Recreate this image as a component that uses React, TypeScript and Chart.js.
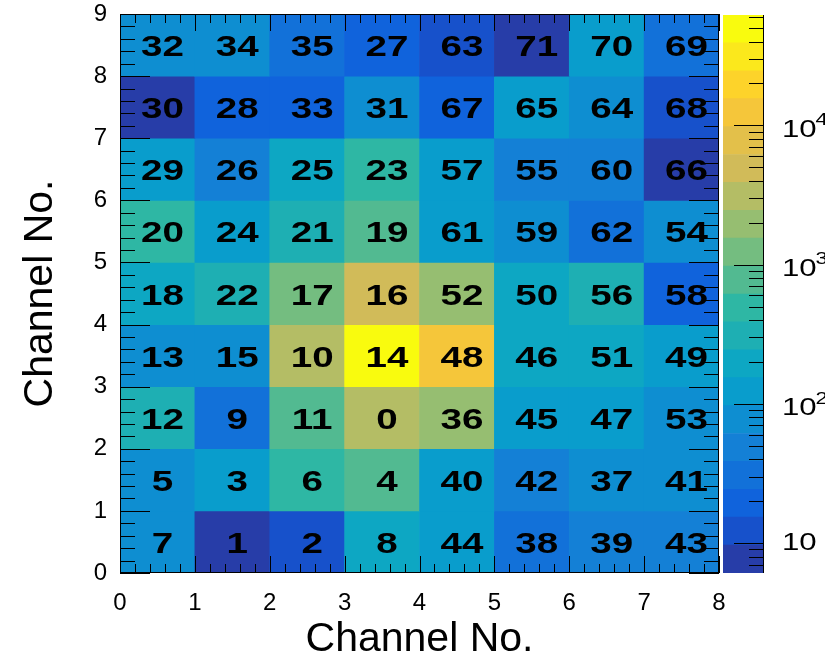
import React, { useEffect, useRef } from 'react';
import { Chart, registerables } from 'chart.js';

Chart.register(...registerables);

const FONT = "'Liberation Sans', Arial, Helvetica, sans-serif";

// Axis ranges (pad grid 8 x 9)
const X_MIN = 0;
const X_MAX = 8;
const Y_MIN = 0;
const Y_MAX = 9;
const COLUMNS = ['0', '1', '2', '3', '4', '5', '6', '7'];

// Channel number printed in each pad, top row (y 8-9) first
const CHANNEL_IDS: number[][] = [
  [32, 34, 35, 27, 63, 71, 70, 69],
  [30, 28, 33, 31, 67, 65, 64, 68],
  [29, 26, 25, 23, 57, 55, 60, 66],
  [20, 24, 21, 19, 61, 59, 62, 54],
  [18, 22, 17, 16, 52, 50, 56, 58],
  [13, 15, 10, 14, 48, 46, 51, 49],
  [12, 9, 11, 0, 36, 45, 47, 53],
  [5, 3, 6, 4, 40, 42, 37, 41],
  [7, 1, 2, 8, 44, 38, 39, 43],
];

// Counts per pad, same layout as CHANNEL_IDS
const COUNTS: number[][] = [
  [78, 82, 30, 19, 13, 7, 118, 33],
  [6.2, 18, 20, 75, 17, 125, 80, 12],
  [130, 48, 190, 480, 120, 47, 52, 7.5],
  [500, 115, 300, 760, 125, 85, 29, 76],
  [200, 310, 1250, 4900, 1900, 185, 320, 20],
  [74, 80, 3100, 61000, 12500, 160, 200, 125],
  [290, 32, 780, 3000, 1800, 118, 128, 72],
  [75, 135, 470, 800, 120, 50, 78, 74],
  [90, 6.5, 12, 195, 125, 31, 52, 50],
];

// Colour axis
const Z_MIN = 6.1;
const Z_MAX = 62000;
const Z_LABELS = [10, 100, 1000, 10000];

// 20-level "bird" palette, low to high
const PALETTE = [
  'rgb(39,61,168)', 'rgb(23,81,203)', 'rgb(16,99,220)', 'rgb(18,113,217)',
  'rgb(20,128,214)', 'rgb(14,142,209)', 'rgb(9,157,204)', 'rgb(13,167,195)',
  'rgb(30,175,179)', 'rgb(46,183,164)', 'rgb(82,186,145)', 'rgb(116,189,128)',
  'rgb(150,190,113)', 'rgb(180,189,101)', 'rgb(209,187,89)', 'rgb(227,192,74)',
  'rgb(245,198,58)', 'rgb(253,211,42)', 'rgb(251,232,28)', 'rgb(249,251,14)',
];

const LOG_MIN = Math.log10(Z_MIN);
const LOG_MAX = Math.log10(Z_MAX);

function colorFor(v: number): string {
  const f = (Math.log10(v) - LOG_MIN) / (LOG_MAX - LOG_MIN);
  const i = Math.max(0, Math.min(PALETTE.length - 1, Math.floor(f * PALETTE.length)));
  return PALETTE[i];
}

function bandEdge(i: number): number {
  return Math.pow(10, LOG_MIN + ((LOG_MAX - LOG_MIN) * i) / PALETTE.length);
}

// Inward ticks on all four sides, the frame and the channel labels
const padDecorations = {
  id: 'padDecorations',
  afterDatasetsDraw(chart: any) {
    const { ctx, chartArea: a, scales } = chart;
    const xs = scales.xNum;
    const ys = scales.y;
    const xc = scales.x;
    ctx.save();
    ctx.strokeStyle = '#000';
    ctx.lineWidth = 1;
    ctx.beginPath();
    for (let k = 0; k <= (X_MAX - X_MIN) * 5; k++) {
      const v = X_MIN + k / 5;
      const px = Math.round(xs.getPixelForValue(v)) + 0.5;
      const len = k % 5 === 0 ? 17 : 9;
      ctx.moveTo(px, a.bottom);
      ctx.lineTo(px, a.bottom - len);
      ctx.moveTo(px, a.top);
      ctx.lineTo(px, a.top + len);
    }
    for (let k = 0; k <= (Y_MAX - Y_MIN) * 5; k++) {
      const v = Y_MIN + k / 5;
      const py = Math.round(ys.getPixelForValue(v)) + 0.5;
      const len = k % 5 === 0 ? 30 : 15;
      ctx.moveTo(a.left, py);
      ctx.lineTo(a.left + len, py);
      ctx.moveTo(a.right, py);
      ctx.lineTo(a.right - len, py);
    }
    ctx.stroke();
    ctx.strokeRect(Math.round(a.left) + 0.5, Math.round(a.top) + 0.5,
      Math.round(a.right - a.left) - 1, Math.round(a.bottom - a.top) - 1);

    ctx.fillStyle = '#000';
    ctx.font = `bold 29px ${FONT}`;
    ctx.textAlign = 'center';
    ctx.textBaseline = 'middle';
    CHANNEL_IDS.forEach((row, r) => {
      const yVal = Y_MAX - 1 - r + 0.5;
      row.forEach((id, c) => {
        const px = xc.getPixelForValue(c) + 5;
        const py = ys.getPixelForValue(yVal) + 3;
        ctx.save();
        ctx.translate(px, py);
        ctx.scale(1.33, 1);
        ctx.fillText(String(id), 0, 0);
        ctx.restore();
      });
    });
    ctx.restore();
  },
};

// Colour bar ticks (inward, on the right edge) and power-of-ten labels
const colorBarDecorations = {
  id: 'colorBarDecorations',
  afterDatasetsDraw(chart: any) {
    const { ctx, chartArea: a, scales } = chart;
    const ys = scales.y;
    ctx.save();
    ctx.strokeStyle = '#000';
    ctx.lineWidth = 1;
    ctx.beginPath();
    for (let e = 0; e <= 5; e++) {
      for (let m = 1; m <= 9; m++) {
        const v = m * Math.pow(10, e);
        if (v <= Z_MIN || v >= Z_MAX) continue;
        const py = Math.round(ys.getPixelForValue(v)) + 0.5;
        const len = m === 1 ? 30 : 15;
        ctx.moveTo(a.right, py);
        ctx.lineTo(a.right - len, py);
      }
    }
    const rx = Math.round(a.right) - 0.5;
    ctx.moveTo(rx, a.top);
    ctx.lineTo(rx, a.bottom);
    ctx.stroke();

    ctx.fillStyle = '#000';
    ctx.textAlign = 'left';
    ctx.textBaseline = 'middle';
    for (const v of Z_LABELS) {
      const exp = Math.round(Math.log10(v));
      const py = ys.getPixelForValue(v);
      const base = exp > 1 ? py + 5 : py;
      ctx.save();
      ctx.translate(a.right + 18, base);
      ctx.scale(1.3, 1);
      ctx.font = `24px ${FONT}`;
      ctx.fillText('10', 0, 0);
      const w = ctx.measureText('10').width;
      if (exp > 1) {
        ctx.font = `17px ${FONT}`;
        ctx.fillText(String(exp), w - 1, -10);
      }
      ctx.restore();
    }
    ctx.restore();
  },
};

// Keep axis boxes at fixed sizes so the frame sits where ROOT put it
function fixBox(size: { width?: number; height?: number }) {
  return (s: any) => {
    if (size.width !== undefined) s.width = size.width;
    if (size.height !== undefined) s.height = size.height;
    s.paddingTop = 0;
    s.paddingBottom = 0;
    s.paddingLeft = 0;
    s.paddingRight = 0;
  };
}

export default function App() {
  const mainRef = useRef<HTMLCanvasElement>(null);
  const barRef = useRef<HTMLCanvasElement>(null);

  useEffect(() => {
    if (!mainRef.current || !barRef.current) return;

    const rowDatasets = COUNTS.map((row, r) => {
      const yLow = Y_MAX - 1 - r;
      return {
        label: `row ${yLow}`,
        data: row.map(() => [yLow, yLow + 1]),
        backgroundColor: row.map((v) => colorFor(v)),
        borderWidth: 0,
        barPercentage: 1,
        categoryPercentage: 1,
        grouped: false,
      };
    });

    const tickFont = { family: FONT, size: 24, lineHeight: 1 };
    const titleFont = { family: FONT, size: 41, lineHeight: 0.8 };

    const main = new Chart(mainRef.current, {
      type: 'bar',
      data: { labels: COLUMNS, datasets: rowDatasets as any },
      options: {
        responsive: false,
        animation: false,
        layout: { padding: { top: 14, right: 106, bottom: 0, left: 0 } },
        plugins: { legend: { display: false }, tooltip: { enabled: false } },
        scales: {
          x: { type: 'category', display: false, offset: true },
          xNum: {
            type: 'linear',
            position: 'bottom',
            offset: false,
            min: X_MIN,
            max: X_MAX,
            grid: { display: false, drawTicks: false, offset: false },
            border: { display: false },
            ticks: { stepSize: 1, padding: 18, color: '#000', font: tickFont, maxRotation: 0, autoSkip: false },
            title: { display: true, text: 'Channel No.', color: '#000', font: titleFont, padding: { top: 0, bottom: 0 } },
            afterFit: fixBox({ height: 83 }),
          },
          y: {
            type: 'linear',
            min: Y_MIN,
            max: Y_MAX,
            grid: { display: false, drawTicks: false },
            border: { display: false },
            ticks: { stepSize: 1, padding: 13, color: '#000', font: tickFont, autoSkip: false },
            title: { display: true, text: 'Channel No.', color: '#000', font: titleFont, padding: { top: 24, bottom: 0 } },
            afterFit: fixBox({ width: 120 }),
          },
        } as any,
      },
      plugins: [padDecorations],
    });

    const bandDatasets = PALETTE.map((col, i) => ({
      label: `band ${i}`,
      data: [[bandEdge(i), bandEdge(i + 1)]],
      backgroundColor: col,
      borderWidth: 0,
      barPercentage: 1,
      categoryPercentage: 1,
      grouped: false,
    }));

    const bar = new Chart(barRef.current, {
      type: 'bar',
      data: { labels: ['z'], datasets: bandDatasets as any },
      options: {
        responsive: false,
        animation: false,
        layout: { padding: { top: 15, right: 0, bottom: 83, left: 8 } },
        plugins: { legend: { display: false }, tooltip: { enabled: false } },
        scales: {
          x: { type: 'category', display: false, offset: true },
          y: {
            type: 'logarithmic',
            position: 'right',
            min: Z_MIN,
            max: Z_MAX,
            grid: { display: false, drawTicks: false },
            border: { display: false },
            ticks: { display: false },
            afterFit: fixBox({ width: 61 }),
          },
        } as any,
      },
      plugins: [colorBarDecorations],
    });

    return () => {
      main.destroy();
      bar.destroy();
    };
  }, []);

  return (
    <div style={{ position: 'fixed', left: 0, top: 0, width: 825, height: 656, background: '#fff' }}>
      <canvas ref={mainRef} width={825} height={656}
        style={{ position: 'absolute', left: 0, top: 0, width: 825, height: 656 }} />
      <canvas ref={barRef} width={110} height={656}
        style={{ position: 'absolute', left: 715, top: 0, width: 110, height: 656 }} />
    </div>
  );
}
